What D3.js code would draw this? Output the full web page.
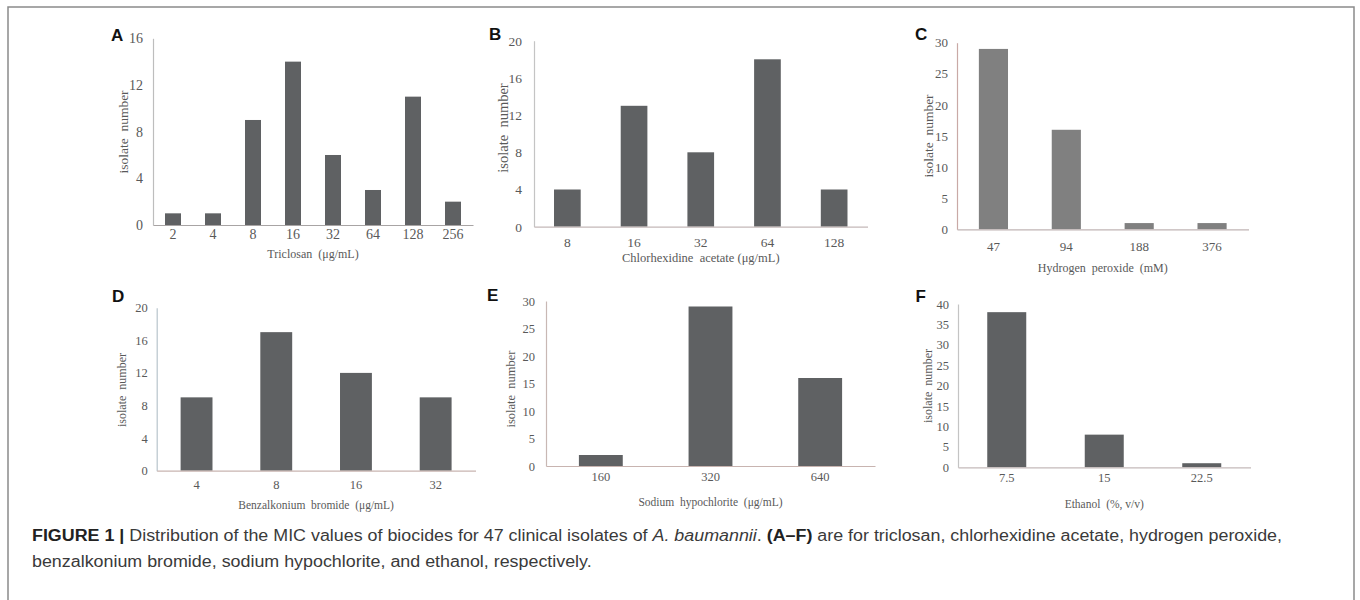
<!DOCTYPE html>
<html>
<head>
<meta charset="utf-8">
<script src="https://cdn.jsdelivr.net/npm/d3@7/dist/d3.min.js"></script>
<style>
  body { margin: 0; background: #fff; }
  svg { display: block; }
</style>
</head>
<body>
<svg id="fig" width="1360" height="600"></svg>
<script>
// MIC distributions, 47 isolates each
var triclosanDoses = ["2", "4", "8", "16", "32", "64", "128", "256"];
var triclosanCounts = [1, 1, 9, 14, 6, 3, 11, 2];

var chlorhexDoses = ["8", "16", "32", "64", "128"];
var chlorhexCounts = [4, 13, 8, 18, 4];

var peroxideDoses = ["47", "94", "188", "376"];
var peroxideCounts = [29, 16, 1, 1];

var benzalkDoses = ["4", "8", "16", "32"];
var benzalkCounts = [9, 17, 12, 9];

var hypochlDoses = ["160", "320", "640"];
var hypochlCounts = [2, 29, 16];

var ethanolDoses = ["7.5", "15", "22.5"];
var ethanolCounts = [38, 8, 1];

var yTicksA = [0, 4, 8, 12, 16];
var yTicksB = [0, 4, 8, 12, 16, 20];
var yTicksC = [0, 5, 10, 15, 20, 25, 30];
var yTicksD = [0, 4, 8, 12, 16, 20];
var yTicksE = [0, 5, 10, 15, 20, 25, 30];
var yTicksF = [0, 5, 10, 15, 20, 25, 30, 35, 40];

var titles = ["Triclosan  (\u03bcg/mL)", "Chlorhexidine  acetate (\u03bcg/mL)", "Hydrogen  peroxide  (mM)",
              "Benzalkonium  bromide  (\u03bcg/mL)", "Sodium  hypochlorite  (\u03bcg/mL)", "Ethanol  (%, v/v)"];

var svg = d3.select("#fig");
var serif = "'Liberation Serif', 'Times New Roman', serif";
var sans = "'Liberation Sans', Arial, sans-serif";
var txtColor = "#595959";

// frame
svg.append("rect")
  .attr("x", 8).attr("y", 7).attr("width", 1346).attr("height", 620)
  .attr("fill", "none").attr("stroke", "#8a8a8a").attr("stroke-width", 1.5);

function drawPanel(p) {
  var x = d3.scaleBand().domain(p.cats).range([p.x0, p.x1]).paddingInner(0.6).paddingOuter(0.3);
  var y = d3.scaleLinear().domain([0, p.ticks[p.ticks.length - 1]]).range([p.y0, p.y1]);
  var g = svg.append("g");

  g.selectAll("rect.bar").data(p.vals).enter().append("rect")
    .attr("class", "bar")
    .attr("x", function(d, i) { return x(p.cats[i]); })
    .attr("width", x.bandwidth())
    .attr("y", function(d) { return y(d); })
    .attr("height", function(d) { return y(0) - y(d); })
    .attr("fill", p.color);

  var ya = g.append("g").attr("transform", "translate(" + p.x0 + ",0)")
    .call(d3.axisLeft(y).tickValues(p.ticks).tickSize(0).tickPadding(p.ypad).tickSizeOuter(0));
  ya.select(".domain").attr("stroke", p.yline).attr("stroke-width", 1.2);
  ya.selectAll("text").attr("font-family", serif).attr("font-size", p.fs).attr("fill", txtColor);

  var xa = g.append("g").attr("transform", "translate(0," + p.y0 + ")")
    .call(d3.axisBottom(x).tickSize(0).tickPadding(p.xpad).tickSizeOuter(0));
  xa.select(".domain").attr("stroke", p.xline).attr("stroke-width", 1.2);
  xa.selectAll("text").attr("font-family", serif).attr("font-size", p.fs).attr("fill", txtColor);

  g.append("text")
    .attr("x", (p.x0 + p.x1) / 2).attr("y", p.titleY)
    .attr("text-anchor", "middle")
    .attr("font-family", serif).attr("font-size", p.tfs).attr("fill", txtColor)
    .style("white-space", "pre")
    .text(p.title);

  g.append("text")
    .attr("transform", "translate(" + p.labX + "," + p.labY + ") rotate(-90)")
    .attr("text-anchor", "middle").attr("dominant-baseline", "central")
    .attr("font-family", serif).attr("font-size", p.lfs).attr("fill", txtColor)
    .style("white-space", "pre")
    .text("isolate  number");

  g.append("text")
    .attr("x", p.letX).attr("y", p.letY)
    .attr("font-family", sans).attr("font-weight", "bold").attr("font-size", 17).attr("fill", "#111")
    .text(p.letter);
}

var dark = "#5f6163";

drawPanel({ letter: "A", cats: triclosanDoses, vals: triclosanCounts, ticks: yTicksA, color: dark,
  x0: 153, x1: 473, y0: 225, y1: 38.3, fs: 14, ypad: 10, xpad: 4, yline: "#bdbdbd", xline: "#a8a4a4",
  title: titles[0], titleY: 258, tfs: 12, labX: 123, labY: 132, lfs: 13.5, letX: 111, letY: 41 });

drawPanel({ letter: "B", cats: chlorhexDoses, vals: chlorhexCounts, ticks: yTicksB, color: dark,
  x0: 534, x1: 867.5, y0: 226.7, y1: 40.7, fs: 13.5, ypad: 12, xpad: 11, yline: "#c4c4c4", xline: "#c4b8b8",
  title: titles[1], titleY: 262, tfs: 12.5, labX: 503, labY: 128, lfs: 14.5, letX: 489, letY: 39.5 });

drawPanel({ letter: "C", cats: peroxideDoses, vals: peroxideCounts, ticks: yTicksC, color: "#808080",
  x0: 957, x1: 1248.5, y0: 229.3, y1: 42.7, fs: 13, ypad: 9, xpad: 12, yline: "#c9a9a6", xline: "#c0b4b4",
  title: titles[2], titleY: 272, tfs: 12, labX: 928, labY: 136, lfs: 13.5, letX: 915, letY: 40 });

drawPanel({ letter: "D", cats: benzalkDoses, vals: benzalkCounts, ticks: yTicksD, color: dark,
  x0: 156.7, x1: 475.5, y0: 470.7, y1: 307.7, fs: 12.5, ypad: 9, xpad: 9, yline: "#b8c4cc", xline: "#c8b4b0",
  title: titles[3], titleY: 509, tfs: 11.5, labX: 121.7, labY: 390, lfs: 12, letX: 112, letY: 301.7 });

drawPanel({ letter: "E", cats: hypochlDoses, vals: hypochlCounts, ticks: yTicksE, color: dark,
  x0: 546, x1: 875, y0: 466, y1: 301, fs: 12.5, ypad: 11, xpad: 6, yline: "#c8b8b4", xline: "#c8b4b0",
  title: titles[4], titleY: 506, tfs: 11.5, labX: 510.7, labY: 389, lfs: 12.5, letX: 487, letY: 300.7 });

drawPanel({ letter: "F", cats: ethanolDoses, vals: ethanolCounts, ticks: yTicksF, color: dark,
  x0: 958, x1: 1250.5, y0: 467.3, y1: 304, fs: 12.5, ypad: 9, xpad: 5.5, yline: "#c4c4c4", xline: "#c4baba",
  title: titles[5], titleY: 508, tfs: 11.5, labX: 928.3, labY: 386, lfs: 12, letX: 915.5, letY: 301.7 });

// caption -- the original face is wider than Liberation Sans, so stretch to the measured line width
var cap = svg.append("g").attr("font-family", sans).attr("font-size", 16).attr("fill", "#3a3a3a");
var line1 = cap.append("text").attr("x", 32).attr("y", 541);
line1.append("tspan").attr("font-weight", "bold").attr("fill", "#222").text("FIGURE 1 | ");
line1.append("tspan").text("Distribution of the MIC values of biocides for 47 clinical isolates of ");
line1.append("tspan").attr("font-style", "italic").text("A. baumannii");
line1.append("tspan").text(". ");
line1.append("tspan").attr("font-weight", "bold").attr("fill", "#222").text("(A\u2013F)");
line1.append("tspan").text(" are for triclosan, chlorhexidine acetate, hydrogen peroxide,");
var line2 = cap.append("text").attr("x", 32).attr("y", 567)
  .text("benzalkonium bromide, sodium hypochlorite, and ethanol, respectively.");

var stretch = 1250 / line1.node().getComputedTextLength();
line1.attr("textLength", 1250).attr("lengthAdjust", "spacingAndGlyphs");
line2.attr("textLength", line2.node().getComputedTextLength() * stretch).attr("lengthAdjust", "spacingAndGlyphs");
</script>
</body>
</html>
